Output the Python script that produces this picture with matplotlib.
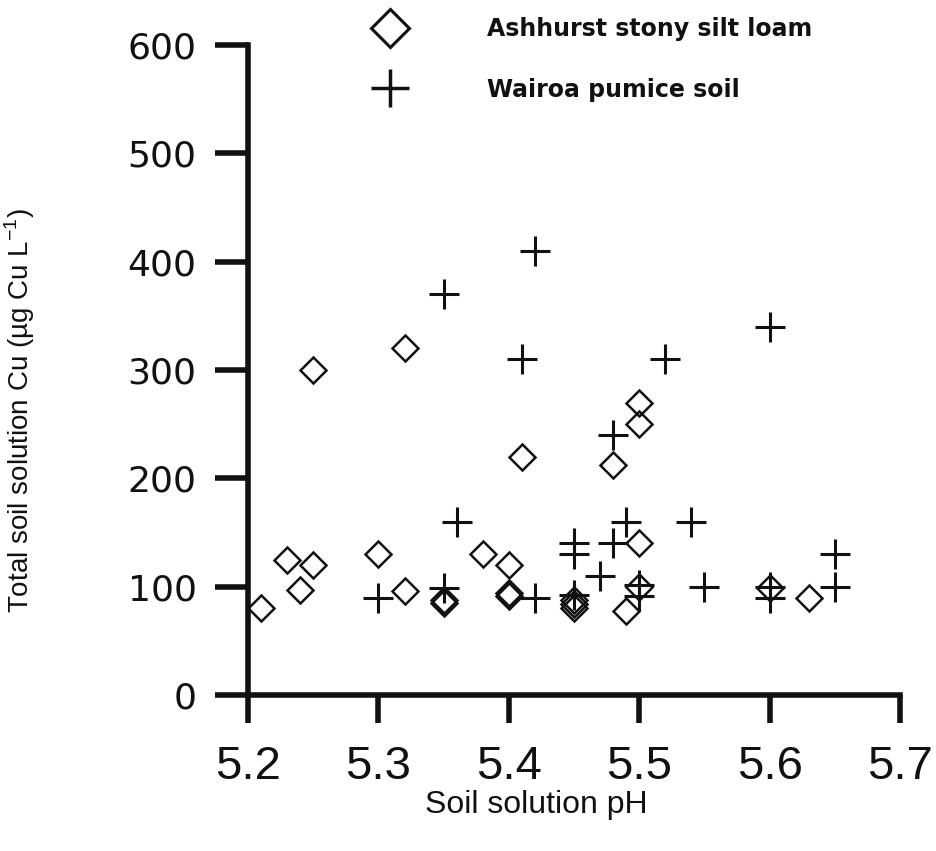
import matplotlib
matplotlib.use("Agg")
import matplotlib.pyplot as plt
from matplotlib.lines import Line2D

# Ashhurst stony silt loam (diamonds)
ash_ph = [5.21, 5.23, 5.24, 5.25, 5.25, 5.30, 5.32, 5.32, 5.35, 5.35, 5.38,
          5.40, 5.40, 5.40, 5.41, 5.45, 5.45, 5.45, 5.48, 5.49, 5.50, 5.50,
          5.50, 5.50, 5.60, 5.63]
ash_cu = [80, 125, 97, 120, 300, 130, 96, 320, 85, 88, 130,
          120, 91, 94, 220, 80, 84, 88, 212, 78, 270, 250,
          140, 100, 99, 90]

# Wairoa pumice soil (crosses)
wai_ph = [5.30, 5.35, 5.35, 5.36, 5.41, 5.42, 5.42, 5.45, 5.45, 5.45, 5.47,
          5.48, 5.48, 5.49, 5.50, 5.50, 5.52, 5.54, 5.55, 5.60, 5.60, 5.60,
          5.65, 5.65]
wai_cu = [90, 99, 370, 160, 310, 410, 90, 140, 130, 92, 110,
          140, 240, 160, 102, 91, 310, 160, 100, 340, 100, 90,
          130, 100]

xticks = [5.2, 5.3, 5.4, 5.5, 5.6, 5.7]
yticks = [0, 100, 200, 300, 400, 500, 600]

ink = "#111111"

fig = plt.figure(figsize=(9.36, 8.51), dpi=100)
ax = fig.add_axes([0.265, 0.1833, 0.6966, 0.7638])

ax.plot(ash_ph, ash_cu, linestyle="none", marker="D", ms=13, mfc="none",
        mec=ink, mew=1.8, clip_on=False)
ax.plot(wai_ph, wai_cu, linestyle="none", marker="+", ms=21, mec=ink,
        mew=2.2, clip_on=False)

ax.set_xlim(5.2, 5.7)
ax.set_ylim(0, 600)
ax.set_xticks(xticks)
ax.set_yticks(yticks)
ax.set_xticklabels([f"{t:.1f}" for t in xticks], fontfamily="Liberation Sans",
                   fontsize=34)
ax.set_yticklabels([str(t) for t in yticks], fontfamily="DejaVu Sans",
                   fontsize=26)

for s in ["top", "right"]:
    ax.spines[s].set_visible(False)
for s in ["left", "bottom"]:
    ax.spines[s].set_linewidth(4)
    ax.spines[s].set_color(ink)

ax.tick_params(axis="x", direction="out", length=20, width=4, pad=16,
               color=ink, labelcolor=ink)
ax.tick_params(axis="y", direction="out", length=24, width=4, pad=13,
               color=ink, labelcolor=ink)

fig.text(536 / 936, 1 - 805 / 851, "Soil solution pH",
         fontfamily="Liberation Sans", fontsize=23, ha="center", va="center",
         color=ink)
fig.text(20 / 936, 1 - 410 / 851,
         "Total soil solution Cu (µg Cu L$^{\\mathregular{-1}}$)",
         fontfamily="Liberation Sans", fontsize=20, rotation=90,
         ha="center", va="center", color=ink)

handles = [
    Line2D([], [], linestyle="none", marker="D", ms=19, mfc="none", mec=ink,
           mew=2.2),
    Line2D([], [], linestyle="none", marker="+", ms=27, mec=ink, mew=2.5),
]
labels = ["Ashhurst stony silt loam", "Wairoa pumice soil"]
ax.legend(handles, labels, loc="upper left",
          bbox_to_anchor=(378 / 936, 1 - 17 / 851),
          bbox_transform=fig.transFigure, frameon=False,
          prop={"family": "DejaVu Sans", "weight": "bold", "size": 17},
          labelcolor=ink, borderpad=0, borderaxespad=0, handlelength=1.0,
          handletextpad=3.6, labelspacing=1.55)

fig.savefig("out.png", dpi=100)
